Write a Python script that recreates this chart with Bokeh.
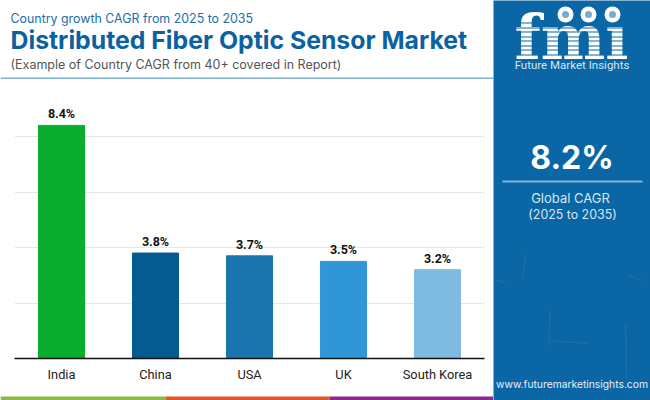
from bokeh.plotting import figure
from bokeh.core.properties import value
from bokeh.layouts import column, row
from bokeh.models import ColumnDataSource, FactorRange, Range1d, FixedTicker
from bokeh.embed import file_html
from bokeh.resources import INLINE

countries = ["India", "China", "USA", "UK", "South Korea"]
cagr = [8.4, 3.8, 3.7, 3.5, 3.2]
bar_colors = ["#0aae2e", "#055a92", "#1a75ae", "#2f96d8", "#7fbae0"]
bar_labels = ["8.4%", "3.8%", "3.7%", "3.5%", "3.2%"]
grid_ticks = [2, 4, 6, 8]

PANEL = "#0a66a4"
W_LEFT, H_HEAD, H_STRIP = 493, 79, 12
FL, FR, FT, FB = 14, 484, 80, 358  # plot frame in window pixels


def sheet(w, h, bg="#ffffff"):
    """A figure whose frame fills it, with coordinates in pixels from its top-left."""
    f = figure(width=w, height=h, output_backend="svg", toolbar_location=None,
               x_range=Range1d(0, w), y_range=Range1d(h, 0), x_axis_type=None, y_axis_type=None,
               min_border=0, min_border_left=0, min_border_right=0, min_border_top=0, min_border_bottom=0,
               outline_line_color=None, background_fill_color=bg, border_fill_color=bg)
    f.grid.visible = False
    return f


def put(f, x, y, text, size, color, font="Inter", style="normal", align="left", baseline="middle"):
    f.text(x=[x], y=[y], text=[text], text_font=value(font), text_font_size=size, text_color=color,
           text_font_style=style, text_align=align, text_baseline=baseline)


# chart
src = ColumnDataSource(dict(c=countries, v=cagr, col=bar_colors, t=bar_labels))
p = figure(width=W_LEFT, height=400 - H_HEAD - H_STRIP, output_backend="svg", toolbar_location=None,
           x_range=FactorRange(factors=countries, range_padding=0, factor_padding=0),
           y_range=Range1d(0, (FB - FT) / 27.75),
           min_border_left=FL, min_border_right=W_LEFT - FR,
           min_border_top=FT - H_HEAD, min_border_bottom=400 - H_STRIP - FB, outline_line_color=None)
p.vbar(x="c", top="v", width=0.49, color="col", source=src)
p.text(x="c", y="v", text="t", source=src, text_align="center", text_baseline="bottom",
       y_offset=-4, text_font=value("Roboto"), text_font_style="bold", text_font_size="12.5px", text_color="#111111")
p.yaxis.visible = False
p.xgrid.visible = False
p.ygrid.ticker = FixedTicker(ticks=grid_ticks)
p.ygrid.grid_line_color = "#e6e6e6"
p.xaxis.axis_line_color = "#111111"
p.xaxis.axis_line_width = 1.5
p.xaxis.major_tick_line_color = None
p.xaxis.minor_tick_line_color = None
p.xaxis.major_label_text_font = "Roboto"
p.xaxis.major_label_text_font_size = "12.8px"
p.xaxis.major_label_text_color = "#222222"
p.xaxis.major_label_standoff = 2

# header
head = sheet(W_LEFT, H_HEAD)
put(head, 10, 18, "Country growth CAGR from 2025 to 2035", "12.4px", "#1a6ea8")
put(head, 10, 39, "Distributed Fiber Optic Sensor Market", "24.8px", "#0a62a0", style="bold")
put(head, 10, 64, "(Example of Country CAGR from 40+ covered in Report)", "12.5px", "#555555")
head.quad(left=[0], right=[W_LEFT], top=[77], bottom=[79], color="#7fb0d0", line_color=None)

# bottom strip: only its last 4 px are coloured
strip = sheet(W_LEFT, H_STRIP)
strip.quad(left=[0, 165, 329], right=[165, 329, 493], top=[H_STRIP - 4] * 3, bottom=[H_STRIP] * 3,
           color=["#8bbb45", "#e4572b", "#8b2a8a"], line_color=None)

# right panel, x measured from the panel's left edge at 493
panel = sheet(650 - W_LEFT, 400, PANEL)
X = W_LEFT
panel.segment(x0=[525 - X, 625 - X, 550 - X, 628 - X, 495 - X, 550 - X],
              y0=[253, 323, 340, 275, 280, 310],
              x1=[522 - X, 626 - X, 587 - X, 641 - X, 505 - X, 548 - X],
              y1=[278, 380, 343, 280, 282, 345],
              line_color="#7fb4dc", line_alpha=0.18, line_width=1)
put(panel, 571.5 - X, 157, "8.2%", "32px", "#ffffff", style="bold", align="center")
panel.quad(left=[502 - X], right=[642 - X], top=[180], bottom=[182], color="#7fb4dc", line_color=None)
put(panel, 570 - X, 197, "Global CAGR", "13px", "#d5e6f3", align="center")
put(panel, 572 - X, 214, "(2025 to 2035)", "12.4px", "#d5e6f3", align="center")
put(panel, 571.5 - X, 383, "www.futuremarketinsights.com", "10.3px", "#e6f0f8", align="center")

# logo
put(panel, 571 - X, 37, "fmı", "61px", "#ffffff", "DejaVu Serif", "bold", "center", "alphabetic")
ys = [22, 27, 31, 36, 40, 45, 49, 54]
panel.quad(left=[512 - X] * len(ys), right=[630 - X] * len(ys), top=ys, bottom=[y + 1 for y in ys],
           color=PANEL, line_color=None)
panel.scatter(x=[565 - X, 588 - X, 612 - X], y=[14, 14, 14], size=16, marker="circle", color="#ffffff", line_color=None)
panel.scatter(x=[565 - X, 588 - X, 612 - X], y=[14, 14, 14], size=7, marker="circle", color=PANEL, line_color=None, alpha=0.55)
put(panel, 571.5 - X, 64, "Future Market Insights", "11.5px", "#d5e6f3", "Roboto", align="center")

root = row(column(row(head), row(p), row(strip), spacing=0), panel, spacing=0)
open("out.html", "w").write(file_html(root, INLINE))
